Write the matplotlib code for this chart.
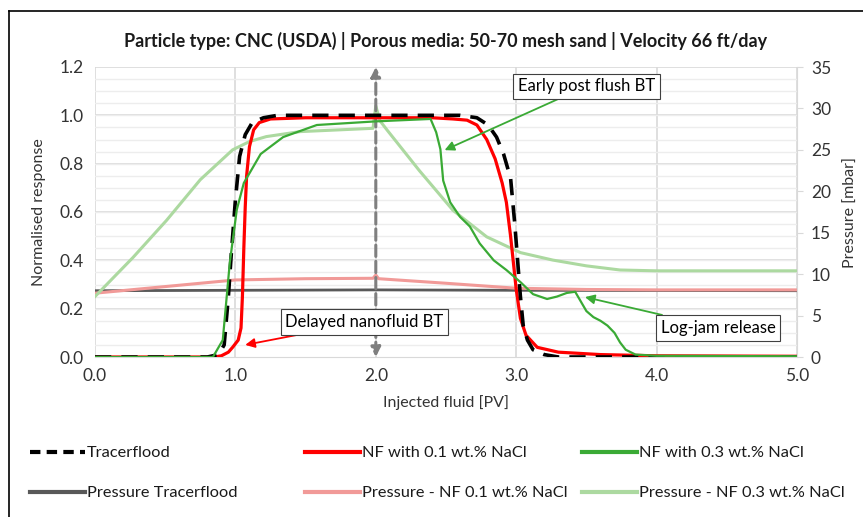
import numpy as np
import matplotlib
matplotlib.use("Agg")
import matplotlib.pyplot as plt
from matplotlib.lines import Line2D
from matplotlib.ticker import MultipleLocator, FormatStrFormatter

plt.rcParams['font.family'] = ['Lato', 'DejaVu Sans']

# --- data (injected PV vs normalised response) ---
tracer_pv = [0.0, 0.80, 0.88, 0.92, 0.95, 0.97, 1.00, 1.03, 1.07, 1.12, 1.20, 1.30,
             2.60, 2.72, 2.80, 2.86, 2.91, 2.96, 2.99, 3.01, 3.03, 3.05, 3.08,
             3.12, 3.20, 3.30, 5.0]
tracer_val = [0.0, 0.0, 0.01, 0.05, 0.25, 0.42, 0.65, 0.83, 0.92, 0.97, 0.99, 1.0,
              1.0, 0.99, 0.96, 0.91, 0.84, 0.74, 0.55, 0.40, 0.25, 0.13, 0.07,
              0.03, 0.01, 0.0, 0.0]

nf01_pv = [0.0, 0.85, 0.90, 0.95, 0.98, 1.02, 1.04, 1.05, 1.06, 1.07, 1.08, 1.10,
           1.13, 1.17, 1.25, 1.50, 2.40, 2.55, 2.65, 2.72, 2.79, 2.85, 2.90, 2.93,
           2.96, 2.98, 3.00, 3.03, 3.07, 3.15, 3.30, 3.60, 4.00, 5.0]
nf01_val = [0.0, 0.0, 0.005, 0.02, 0.04, 0.07, 0.12, 0.25, 0.45, 0.62, 0.75, 0.87,
            0.94, 0.97, 0.985, 0.99, 0.99, 0.985, 0.98, 0.96, 0.90, 0.82, 0.72, 0.64,
            0.50, 0.39, 0.28, 0.16, 0.09, 0.04, 0.02, 0.01, 0.005, 0.003]

nf03_pv = [0.0, 0.84, 0.91, 0.96, 1.01, 1.06, 1.18, 1.34, 1.58, 2.00, 2.39, 2.43,
           2.46, 2.48, 2.53, 2.60, 2.67, 2.74, 2.84, 2.93, 3.03, 3.12, 3.22, 3.29,
           3.36, 3.42, 3.45, 3.50, 3.55, 3.60, 3.65, 3.70, 3.74, 3.78, 3.85, 4.00, 5.0]
nf03_val = [0.0, 0.0, 0.07, 0.39, 0.61, 0.72, 0.84, 0.91, 0.96, 0.975, 0.985, 0.93,
            0.86, 0.73, 0.64, 0.58, 0.54, 0.47, 0.40, 0.36, 0.31, 0.26, 0.24, 0.25,
            0.265, 0.27, 0.24, 0.19, 0.165, 0.15, 0.13, 0.10, 0.06, 0.03, 0.01, 0.005, 0.003]

# pressure series [mbar], right axis
p_tracer_pv = [0.0, 1.0, 2.0, 3.0, 5.0]
p_tracer = [8.0, 8.05, 8.1, 8.05, 8.0]

p_nf01_pv = [0.0, 0.5, 1.0, 1.5, 1.98, 2.0, 2.02, 2.5, 3.0, 3.5, 4.0, 5.0]
p_nf01 = [7.7, 8.5, 9.3, 9.45, 9.5, 9.9, 9.45, 8.9, 8.3, 8.15, 8.1, 8.1]

p_nf03_pv = [0.0, 0.27, 0.51, 0.75, 0.98, 1.10, 1.22, 1.46, 1.98, 2.00, 2.03, 2.08,
             2.31, 2.55, 2.79, 3.03, 3.26, 3.50, 3.74, 4.00, 5.0]
p_nf03 = [7.3, 12.0, 16.5, 21.4, 25.0, 26.0, 26.6, 27.2, 27.6, 30.3, 28.5, 27.4,
          22.5, 17.7, 14.5, 12.6, 11.7, 11.0, 10.5, 10.4, 10.4]

title = "Particle type: CNC (USDA) | Porous media: 50-70 mesh sand | Velocity 66 ft/day"

C_RED = '#FF0000'
C_GREEN = '#3AAA35'
C_GRAY = '#595959'
C_PINK = '#F19A98'
C_LGREEN = '#ACD9A0'
C_ARROW = '#7F7F7F'
C_TEXT = '#333333'

fig = plt.figure(figsize=(8.63, 5.17), dpi=100)
ax = fig.add_axes([95 / 863, 1 - 357 / 517, 702 / 863, 290 / 517])
ax2 = ax.twinx()

# left axis: response
ax.set_xlim(0, 5)
ax.set_ylim(0, 1.2)
ax.xaxis.set_major_locator(MultipleLocator(1.0))
ax.yaxis.set_major_locator(MultipleLocator(0.2))
ax.xaxis.set_major_formatter(FormatStrFormatter('%.1f'))
ax.yaxis.set_major_formatter(FormatStrFormatter('%.1f'))
ax.tick_params(which='both', length=0, labelsize=12.5, colors=C_TEXT, pad=8)
for s in ['top', 'right', 'left']:
    ax.spines[s].set_visible(False)
ax.spines['bottom'].set_color('#D9D9D9')
ax.set_zorder(ax2.get_zorder() + 1)
ax.patch.set_visible(False)

# right axis: pressure, also carries the grid (drawn behind)
ax2.set_ylim(0, 35)
ax2.yaxis.set_major_locator(MultipleLocator(5))
ax2.tick_params(axis='y', length=4, color='#D9D9D9', labelsize=12.5,
                labelcolor=C_TEXT, pad=6)
for s in ['top', 'left', 'bottom']:
    ax2.spines[s].set_visible(False)
ax2.spines['right'].set_color('#D9D9D9')
ax2.set_ylabel("Pressure [mbar]", fontsize=11.5, color=C_TEXT, labelpad=9)

ax2.xaxis.set_minor_locator(MultipleLocator(0.2))
ax2.set_yticks(np.arange(0, 35.01, 35 / 24), minor=True)
ax2.tick_params(axis='y', which='minor', length=0)
ax2.grid(which='minor', color='#EDEDED', linewidth=1.0, zorder=0)
ax2.set_axisbelow(True)
for yv in np.arange(0.2, 1.21, 0.2):
    ax2.axhline(yv * 35 / 1.2, color='#D9D9D9', lw=1.2, zorder=0.5)
for xv in range(0, 6):
    ax2.axvline(xv, color='#D9D9D9', lw=1.2, zorder=0.5)

# pressure lines (behind)
ax2.plot(p_tracer_pv, p_tracer, color=C_GRAY, lw=2.0, zorder=1)
ax2.plot(p_nf01_pv, p_nf01, color=C_PINK, lw=2.2, zorder=2)
ax2.plot(p_nf03_pv, p_nf03, color=C_LGREEN, lw=2.2, zorder=3)

# response lines
ax.plot(nf01_pv, nf01_val, color=C_RED, lw=2.3, zorder=3)
ax.plot(tracer_pv, tracer_val, color='black', lw=2.6, dashes=(4.5, 2.8), zorder=4)
ax.plot(nf03_pv, nf03_val, color=C_GREEN, lw=1.6, zorder=5)

# vertical double arrow at 2.0 PV
ax.annotate("", xy=(2.0, 1.2), xytext=(2.0, 0.0),
            arrowprops=dict(arrowstyle='<|-|>', color=C_ARROW, lw=2.2, linestyle='--',
                            mutation_scale=14, shrinkA=0, shrinkB=0), zorder=2)

box = dict(boxstyle='square,pad=0.28', fc='white', ec='#404040', lw=0.8)
ax.annotate("Early post flush BT", xy=(2.49, 0.856), xytext=(3.50, 1.12),
            fontsize=12, ha='center', va='center', bbox=box, zorder=10,
            arrowprops=dict(arrowstyle='-|>', color=C_GREEN, lw=1.3, mutation_scale=14,
                            shrinkA=0, shrinkB=0))
ax.annotate("Delayed nanofluid BT", xy=(1.07, 0.05), xytext=(1.92, 0.145),
            fontsize=12, ha='center', va='center', bbox=box, zorder=10,
            arrowprops=dict(arrowstyle='-|>', color=C_RED, lw=1.3, mutation_scale=14,
                            shrinkA=0, shrinkB=0))
ax.annotate("Log-jam release", xy=(3.49, 0.248), xytext=(4.44, 0.12),
            fontsize=12, ha='center', va='center', bbox=box, zorder=10,
            arrowprops=dict(arrowstyle='-|>', color=C_GREEN, lw=1.3, mutation_scale=14,
                            shrinkA=0, shrinkB=0))

ax.set_xlabel("Injected fluid [PV]", fontsize=11.5, color=C_TEXT, labelpad=8)
ax.set_ylabel("Normalised response", fontsize=11.5, color=C_TEXT, labelpad=10)
fig.text(446 / 863, 1 - 41 / 517, title, fontsize=13, fontweight='bold',
         ha='center', va='center', color='#1a1a1a')

# legends, one per column
cols = [
    ([Line2D([], [], color='black', lw=3, dashes=(2.5, 1.5)),
      Line2D([], [], color=C_GRAY, lw=3)],
     ["Tracerflood", "Pressure Tracerflood"], 30),
    ([Line2D([], [], color=C_RED, lw=3),
      Line2D([], [], color=C_PINK, lw=3)],
     ["NF with 0.1 wt.% NaCl", "Pressure - NF 0.1 wt.% NaCl"], 305),
    ([Line2D([], [], color=C_GREEN, lw=3),
      Line2D([], [], color=C_LGREEN, lw=3)],
     ["NF with 0.3 wt.% NaCl", "Pressure - NF 0.3 wt.% NaCl"], 582),
]
for handles, labels, xpx in cols:
    leg = fig.legend(handles, labels, loc='upper left',
                     bbox_to_anchor=(xpx / 863, 1 - 446 / 517), frameon=False,
                     fontsize=11.8, handlelength=3.35, handletextpad=0.12,
                     labelspacing=1.55, borderpad=0, borderaxespad=0)
    for t in leg.get_texts():
        t.set_color('#1a1a1a')

# frame edges visible in the crop (left and top)
fig.add_artist(Line2D([9 / 863, 9 / 863], [0, 1 - 11 / 517], color='black', lw=1.2,
                      transform=fig.transFigure))
fig.add_artist(Line2D([9 / 863, 1], [1 - 11 / 517, 1 - 11 / 517], color='black', lw=1.2,
                      transform=fig.transFigure))

fig.savefig("out.png", dpi=100)
